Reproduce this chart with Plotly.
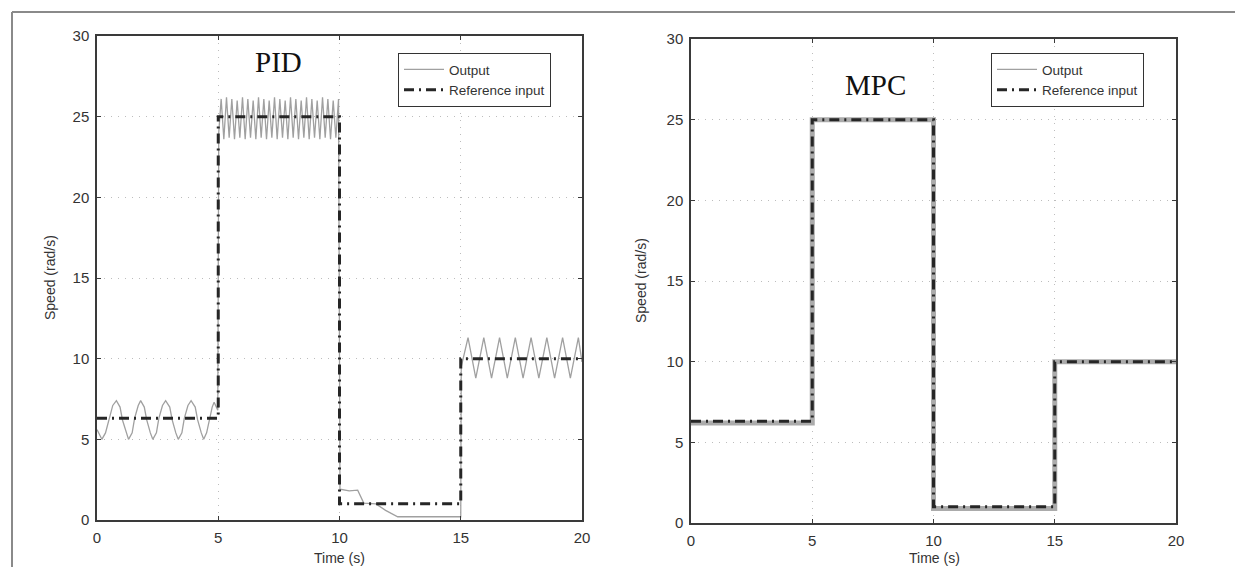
import plotly.graph_objects as go

W, H = 1235, 567

# ---- data ----
ref_t = [0, 5, 5, 10, 10, 15, 15, 20]
ref_v = [6.3, 6.3, 25, 25, 1, 1, 10, 10]

pid_t = [0, 0.2, 0.35, 0.5, 0.65, 0.8, 0.95, 1.05, 1.2, 1.3, 1.45, 1.55, 1.7, 1.8,
         1.95, 2.05, 2.2, 2.3, 2.45, 2.55, 2.7, 2.83, 3.0, 3.1, 3.25, 3.35, 3.5,
         3.6, 3.75, 3.88, 4.05, 4.15, 4.3, 4.4, 4.52, 4.62, 4.75, 4.83, 4.98,
         5.02, 5.12, 5.23, 5.34, 5.45, 5.56, 5.67, 5.78, 5.89, 6.00, 6.11, 6.22, 6.33,
         6.44, 6.55, 6.66, 6.77, 6.88, 6.99, 7.10, 7.21, 7.32, 7.43, 7.54, 7.65, 7.76,
         7.87, 7.98, 8.09, 8.20, 8.31, 8.42, 8.53, 8.64, 8.75, 8.86, 8.97, 9.08, 9.19,
         9.30, 9.41, 9.52, 9.63, 9.74, 9.85, 9.96,
         10.02, 10.05, 10.4, 10.75, 11.0, 11.5, 11.9, 12.4, 15.0,
         15.02, 15.3, 15.62, 15.95, 16.27, 16.6, 16.92, 17.25, 17.57, 17.9, 18.22,
         18.55, 18.87, 19.2, 19.52, 19.85, 20.0]
pid_v = [5.6, 5.0, 5.4, 6.3, 7.1, 7.4, 7.0, 6.2, 5.4, 5.0, 5.4, 6.3, 7.1, 7.4,
         7.0, 6.2, 5.4, 5.0, 5.4, 6.3, 7.1, 7.4, 7.0, 6.2, 5.4, 5.0, 5.4,
         6.3, 7.1, 7.4, 7.0, 6.2, 5.4, 5.0, 5.4, 6.2, 7.0, 7.3, 6.8,
         24.0, 26.1, 23.6, 26.2, 23.7, 26.1, 23.6, 26.0, 23.7, 26.2, 23.6, 26.1, 23.7,
         26.0, 23.6, 26.2, 23.7, 26.1, 23.6, 26.0, 23.7, 26.2, 23.6, 26.1, 23.7, 26.0,
         23.6, 26.2, 23.7, 26.1, 23.6, 26.0, 23.7, 26.2, 23.6, 26.1, 23.7, 26.0, 23.6,
         26.2, 23.7, 26.1, 23.6, 26.0, 23.7, 26.1,
         1.8, 1.9, 1.8, 1.85, 1.05, 1.0, 0.6, 0.2, 0.2,
         9.5, 11.3, 8.8, 11.3, 8.8, 11.3, 8.8, 11.3, 8.8, 11.3, 8.8,
         11.3, 8.8, 11.3, 8.8, 11.3, 9.8]

mpc_t = [0, 5, 5, 10, 10, 15, 15, 20]
mpc_v = [6.2, 6.2, 25, 25, 0.9, 0.9, 10, 10]

x_ticks = [0, 5, 10, 15, 20]
y_ticks = [0, 5, 10, 15, 20, 25, 30]

OUT_COLOR = "#a0a0a0"
REF_COLOR = "#262626"
REF_DASH = "10px,5px,2px,5px"

fig = go.Figure()
fig.add_trace(go.Scatter(x=pid_t, y=pid_v, mode="lines", name="Output",
                         line=dict(color=OUT_COLOR, width=1.3),
                         xaxis="x", yaxis="y", legend="legend"))
fig.add_trace(go.Scatter(x=ref_t, y=ref_v, mode="lines", name="Reference input",
                         line=dict(color=REF_COLOR, width=3, dash=REF_DASH),
                         xaxis="x", yaxis="y", legend="legend"))
fig.add_trace(go.Scatter(x=mpc_t, y=mpc_v, mode="lines", name="Output",
                         line=dict(color="#ababab", width=5), showlegend=False,
                         xaxis="x2", yaxis="y2"))
# legend-only entry so the MPC legend shows a thin sample line like the original
fig.add_trace(go.Scatter(x=[None], y=[None], mode="lines", name="Output",
                         line=dict(color=OUT_COLOR, width=1.3),
                         xaxis="x2", yaxis="y2", legend="legend2"))
fig.add_trace(go.Scatter(x=ref_t, y=ref_v, mode="lines", name="Reference input",
                         line=dict(color=REF_COLOR, width=3, dash=REF_DASH),
                         xaxis="x2", yaxis="y2", legend="legend2"))

def px_x(p):
    return p / W

def px_y(p):
    return 1 - p / H

tickfont = dict(family="Liberation Sans, Arial", size=15, color="#333")
ax_common = dict(showline=True, linecolor="#3a3a3a", linewidth=1.5, mirror="ticks",
                 ticks="inside", ticklen=4, tickcolor="#3a3a3a",
                 showgrid=True, gridcolor="#bdbdbd", griddash="1px,6px", gridwidth=1,
                 zeroline=False, tickfont=tickfont, automargin=False, fixedrange=True)

legend_font = dict(family="Liberation Sans, Arial", size=13.5, color="#333")
layout = dict(
    width=W, height=H,
    margin=dict(l=0, r=0, t=0, b=0),
    paper_bgcolor="white", plot_bgcolor="white",
    xaxis=dict(domain=[px_x(97), px_x(582)], range=[0, 20], tickvals=x_ticks,
               anchor="y", ticklabelstandoff=3, **ax_common),
    yaxis=dict(domain=[px_y(520), px_y(36)], range=[0, 30], tickvals=y_ticks,
               anchor="x", ticklabelstandoff=3, **ax_common),
    xaxis2=dict(domain=[px_x(691), px_x(1176)], range=[0, 20], tickvals=x_ticks,
                anchor="y2", ticklabelstandoff=3, **ax_common),
    yaxis2=dict(domain=[px_y(523), px_y(39)], range=[0, 30], tickvals=y_ticks,
                anchor="x2", ticklabelstandoff=3, **ax_common),
    legend=dict(x=px_x(398), y=px_y(53), xanchor="left", yanchor="top",
                bgcolor="white", bordercolor="#333", borderwidth=1,
                font=legend_font, itemwidth=40, tracegroupgap=0),
    legend2=dict(x=px_x(991), y=px_y(53), xanchor="left", yanchor="top",
                 bgcolor="white", bordercolor="#333", borderwidth=1,
                 font=legend_font, itemwidth=40, tracegroupgap=0),
    showlegend=True,
)
fig.update_layout(**layout)

title_font = dict(family="Liberation Serif, Times New Roman", size=29, color="#111")
lab_font = dict(family="Liberation Sans, Arial", size=14, color="#333")
annots = [
    dict(text="PID", x=px_x(278), y=px_y(62), font=title_font),
    dict(text="MPC", x=px_x(875), y=px_y(85), font=title_font),
    dict(text="Speed (rad/s)", x=px_x(50), y=px_y(278), font=lab_font, textangle=-90),
    dict(text="Speed (rad/s)", x=px_x(641), y=px_y(281), font=lab_font, textangle=-90),
    dict(text="Time (s)", x=px_x(339), y=px_y(558), font=lab_font),
    dict(text="Time (s)", x=px_x(934), y=px_y(558), font=lab_font),
]
for a in annots:
    fig.add_annotation(xref="paper", yref="paper", showarrow=False,
                       xanchor="center", yanchor="middle", **a)

frame = dict(color="#8a8a8a", width=2)
fig.add_shape(type="line", xref="paper", yref="paper",
              x0=px_x(12), y0=px_y(12), x1=1, y1=px_y(12), line=frame)
fig.add_shape(type="line", xref="paper", yref="paper",
              x0=px_x(12), y0=px_y(12), x1=px_x(12), y1=0, line=frame)

fig.write_html("out.html", config={"displayModeBar": False},
               post_script="document.body.style.margin='0';document.body.style.overflow='hidden';")
